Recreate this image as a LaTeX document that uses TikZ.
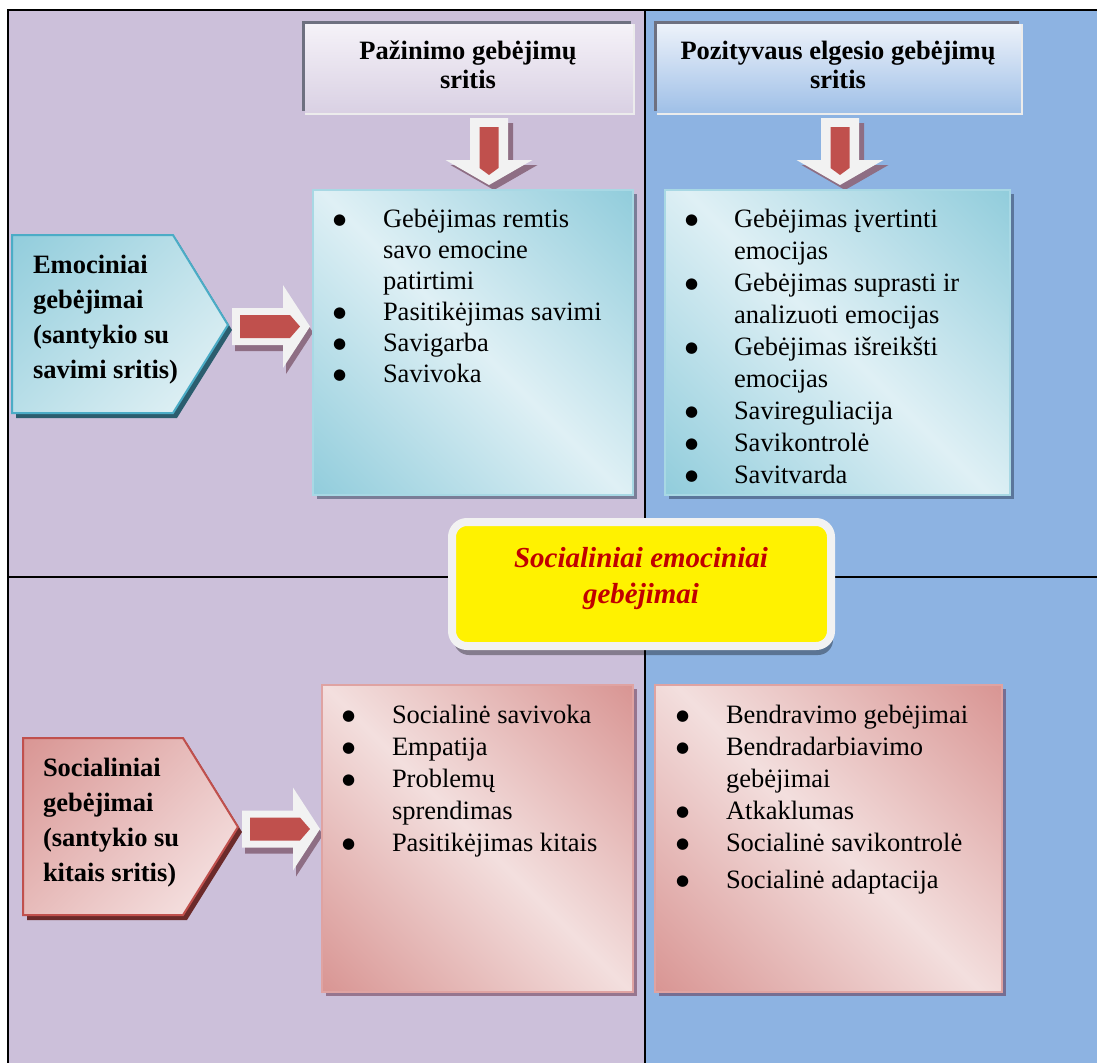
\documentclass[tikz,border=0pt]{standalone}
\usepackage{fontspec}
\setmainfont{Liberation Serif}
\newfontfamily\bulletfont{DejaVu Sans}
\usetikzlibrary{calc,shadows}

\definecolor{bgpurple}{HTML}{CCC0DA}
\definecolor{bgblue}{HTML}{8DB3E2}
\definecolor{tealdark}{HTML}{92CDDC}
\definecolor{teallight}{HTML}{DFF0F5}
\definecolor{tealpale}{HTML}{E8F4F7}
\definecolor{tealedge}{HTML}{4BACC6}
\definecolor{tealline}{HTML}{A8D8E4}
\definecolor{tealshade}{HTML}{2B5D6E}
\definecolor{tealdrop}{HTML}{2A3B55}
\definecolor{pinkdark}{HTML}{D99694}
\definecolor{pinklight}{HTML}{F3DFDE}
\definecolor{pinkpale}{HTML}{F8E9E9}
\definecolor{pinkedge}{HTML}{C0504D}
\definecolor{pinkline}{HTML}{DFA3A2}
\definecolor{pinkshade}{HTML}{6B2A2A}
\definecolor{pinkdrop}{HTML}{612B44}
\definecolor{arrowred}{HTML}{C0504D}
\definecolor{arrowwhite}{HTML}{F2F2F2}
\definecolor{arrowshade}{HTML}{8E6E84}
\definecolor{corered}{HTML}{C00000}
\definecolor{frameline}{HTML}{F2F2F2}
\definecolor{headdark}{HTML}{6E7080}
\definecolor{headonetop}{HTML}{F5F2F8}
\definecolor{headonebottom}{HTML}{D9D0E3}
\definecolor{headtwotop}{HTML}{EDF2FA}
\definecolor{headtwobottom}{HTML}{9EBFE7}

% reflected diagonal bands and corner-to-corner fades
\pgfdeclarehorizontalshading{tealband}{100bp}{color(0bp)=(tealdark); color(15bp)=(tealdark); color(50bp)=(teallight); color(85bp)=(tealdark); color(100bp)=(tealdark)}
\pgfdeclarehorizontalshading{pinkband}{100bp}{color(0bp)=(pinkdark); color(15bp)=(pinkdark); color(50bp)=(pinklight); color(85bp)=(pinkdark); color(100bp)=(pinkdark)}
\pgfdeclarehorizontalshading{tealfade}{100bp}{color(0bp)=(tealdark); color(15bp)=(tealdark); color(85bp)=(tealpale); color(100bp)=(tealpale)}
\pgfdeclarehorizontalshading{pinkfade}{100bp}{color(0bp)=(pinkdark); color(15bp)=(pinkdark); color(85bp)=(pinkpale); color(100bp)=(pinkpale)}

\newcommand\bul{\raisebox{2.5pt}{\bulletfont\fontsize{15}{15}\selectfont ●}}

\tikzset{
  tableline/.style={black, line width=2pt},
  headbox/.style={shade, draw=none, minimum height=90pt},
  headedge/.style={white!85!gray, line width=1.5pt},
  headtext/.style={anchor=base, font=\bfseries\fontsize{26.5}{29.5}\selectfont},
  sidetext/.style={anchor=base west, font=\bfseries\fontsize{26.5}{35}\selectfont},
  listpanel/.style={shade, shading angle=45, line width=1.5pt},
  tealpanel/.style={listpanel, shading=tealband, draw=tealline,
    drop shadow={shadow xshift=4pt, shadow yshift=-4pt, fill=tealdrop, opacity=.5}},
  pinkpanel/.style={listpanel, shading=pinkband, draw=pinkline,
    drop shadow={shadow xshift=4pt, shadow yshift=-4pt, fill=pinkdrop, opacity=.5}},
  listtext/.style={anchor=base west},
  coreframe/.style={draw=frameline, line width=8pt, fill=yellow, rounded corners=15pt,
    minimum width=379pt, minimum height=124pt,
    drop shadow={shadow xshift=2pt, shadow yshift=-9pt, fill=black, opacity=.35}},
  coretext/.style={anchor=base, text=corered, font=\bfseries\itshape\fontsize{29}{36}\selectfont},
  pics/rightarrow/.style={code={
    \fill[arrowshade] (3,6) -- (54,6) -- (54,-35.5) -- (81,6) -- (54,47.5) -- (54,24.5) -- (3,24.5) -- cycle;
    \fill[arrowwhite] (0,-18.5) -- (51,-18.5) -- (51,-41.5) -- (78,0) -- (51,41.5) -- (51,18.5) -- (0,18.5) -- cycle;
    \fill[arrowred] (8,-11.5) -- (58,-11.5) -- (68,0) -- (58,11.5) -- (8,11.5) -- cycle;
  }},
  pics/downarrow/.style={code={
    \fill[arrowshade] (-14,5) -- (24,5) -- (24,47) -- (48.5,47) -- (5,72) -- (-38.5,47) -- (-14,47) -- cycle;
    \fill[arrowwhite] (-19,0) -- (19,0) -- (19,42) -- (43.5,42) -- (0,67) -- (-43.5,42) -- (-19,42) -- cycle;
    \fill[arrowred] (-9.5,9) -- (9.5,9) -- (9.5,50) -- (0,57) -- (-9.5,50) -- cycle;
  }},
}

\begin{document}
\begin{tikzpicture}[x=1pt, y=-1pt, every node/.style={inner sep=0pt, outer sep=0pt}]
\useasboundingbox (0,0) rectangle (1097,1063);

% page, two coloured columns and the table rules
\fill[white] (0,0) rectangle (1097,1063);
\fill[bgpurple] (8,10) rectangle (645,1063);
\fill[bgblue] (645,10) rectangle (1097,1063);
\draw[tableline] (7,10) -- (1097,10);
\draw[tableline] (8,10) -- (8,1063);
\draw[tableline] (645,10) -- (645,1063);
\draw[tableline] (8,577) -- (1097,577);

% column headings
\fill[headdark] (302,21) rectangle (631,111);
\node[headbox, top color=headonetop, bottom color=headonebottom, minimum width=329pt] (h1) at (469.5,69) {};
\draw[headedge] (h1.south west) -- (h1.south east) -- (h1.north east);
\node[headtext] (h1t) at (468,59) {\begin{tabular}[t]{@{}c@{}}Pažinimo gebėjimų\\ sritis\end{tabular}};

\fill[headdark] (654,21) rectangle (1019,111);
\node[headbox, top color=headtwotop, bottom color=headtwobottom, minimum width=365pt] (h2) at (839.5,69) {};
\draw[headedge] (h2.south west) -- (h2.south east) -- (h2.north east);
\node[headtext] (h2t) at (838,59) {\begin{tabular}[t]{@{}c@{}}Pozityvaus elgesio gebėjimų\\ sritis\end{tabular}};

\pic at (489,118) {downarrow};
\pic at (840,118) {downarrow};

% emotional row
\shade[shading=tealfade, shading angle=-45, draw=tealedge, line width=2pt,
  drop shadow={shadow xshift=4pt, shadow yshift=-5pt, fill=tealshade, opacity=1}]
  (12,235) -- (173,235) -- (228,325) -- (173,413) -- (12,413) -- cycle;
\node[sidetext] (emo) at (33,273) {\begin{tabular}[t]{@{}l@{}}Emociniai\\ gebėjimai\\ (santykio su\\ savimi sritis)\end{tabular}};

\pic at (232,326.5) {rightarrow};

\node[tealpanel, minimum width=320pt, minimum height=305pt] (b1) at (473,342.5) {};
\node[listtext, font=\fontsize{26.5}{31}\selectfont] (b1t) at (333,227) {%
\begin{tabular}[t]{@{}p{50pt}@{}l@{}}
\bul & Gebėjimas remtis\\
     & savo emocine\\
     & patirtimi\\
\bul & Pasitikėjimas savimi\\
\bul & Savigarba\\
\bul & Savivoka
\end{tabular}};

\node[tealpanel, minimum width=345pt, minimum height=305pt] (b2) at (837.5,342.5) {};
\node[listtext, font=\fontsize{26.5}{32}\selectfont] (b2t) at (685,227) {%
\begin{tabular}[t]{@{}p{49pt}@{}l@{}}
\bul & Gebėjimas įvertinti\\
     & emocijas\\
\bul & Gebėjimas suprasti ir\\
     & analizuoti emocijas\\
\bul & Gebėjimas išreikšti\\
     & emocijas\\
\bul & Savireguliacija\\
\bul & Savikontrolė\\
\bul & Savitvarda
\end{tabular}};

% central label
\node[coreframe] (core) at (641.5,584) {};
\node[coretext] (coret) at (641,567) {\begin{tabular}[t]{@{}c@{}}Socialiniai emociniai\\ gebėjimai\end{tabular}};

% social row
\shade[shading=pinkfade, shading angle=-45, draw=pinkedge, line width=2pt,
  drop shadow={shadow xshift=4pt, shadow yshift=-5pt, fill=pinkshade, opacity=1}]
  (23,738) -- (183,738) -- (238,827) -- (183,915) -- (23,915) -- cycle;
\node[sidetext] (soc) at (43,776) {\begin{tabular}[t]{@{}l@{}}Socialiniai\\ gebėjimai\\ (santykio su\\ kitais sritis)\end{tabular}};

\pic at (242,829) {rightarrow};

\node[pinkpanel, minimum width=311pt, minimum height=307pt] (b3) at (477.5,838.5) {};
\node[listtext, font=\fontsize{26.5}{32}\selectfont] (b3t) at (342,723) {%
\begin{tabular}[t]{@{}p{50pt}@{}l@{}}
\bul & Socialinė savivoka\\
\bul & Empatija\\
\bul & Problemų\\
     & sprendimas\\
\bul & Pasitikėjimas kitais
\end{tabular}};

\node[pinkpanel, minimum width=347pt, minimum height=307pt] (b4) at (828.5,838.5) {};
\node[listtext, font=\fontsize{26.5}{32}\selectfont] (b4t) at (676,723) {%
\begin{tabular}[t]{@{}p{50pt}@{}l@{}}
\bul & Bendravimo gebėjimai\\
\bul & Bendradarbiavimo\\
     & gebėjimai\\
\bul & Atkaklumas\\
\bul & Socialinė savikontrolė\\[5pt]
\bul & Socialinė adaptacija
\end{tabular}};

\end{tikzpicture}
\end{document}
